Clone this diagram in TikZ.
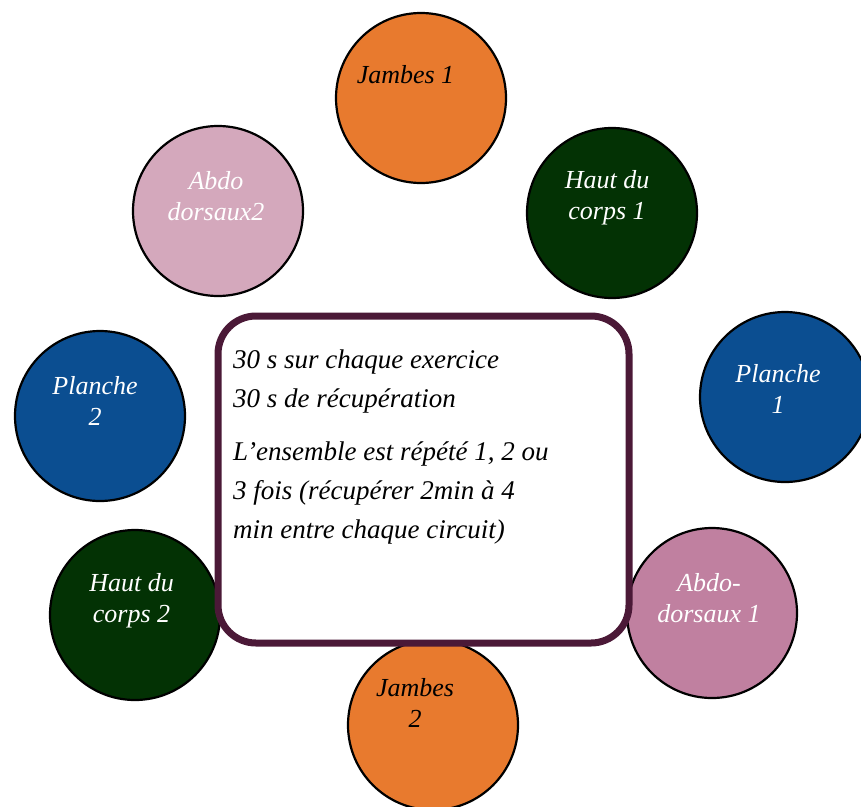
\documentclass[tikz,border=0pt]{standalone}
\usepackage{fontspec}
\setmainfont{Liberation Serif}
\definecolor{orangeJ}{RGB}{232,122,46}
\definecolor{vertH}{RGB}{3,50,4}
\definecolor{bleuP}{RGB}{11,78,145}
\definecolor{roseA}{RGB}{212,168,188}
\definecolor{roseB}{RGB}{192,128,160}
\definecolor{prune}{RGB}{75,25,55}
\begin{document}
\begin{tikzpicture}[x=1pt, y=-1pt,
                        poste/.style={
                            circle,
                            draw=black,
                            line width=2.2pt,
                            minimum size=170pt,
                            inner sep=0pt
                        },
                        etiq/.style={
                            font=\itshape\fontsize{26}{31}\selectfont,
                            align=center,
                            inner sep=0pt
                        },
                        cadre/.style={
                            draw=prune,
                            line width=7pt,
                            fill=white,
                            rounded corners=38pt,
                            inner sep=0pt
                        }
                    ]

                    \useasboundingbox (0,0) rectangle (861,806);

                    % Jambes 1 (top)
                    \node[poste, fill=orangeJ] (jambes1) at (421,98) {};
                    \node[etiq] (jambes1txt)
                        at ([xshift=-15.5pt, yshift=23pt] jambes1.center)
                        {Jambes 1};

                    % Abdo dorsaux 2 (top left)
                    \node[poste, fill=roseA] (abdo2) at (218,211) {};
                    \node[etiq, text=white] (abdo2txt)
                        at ([xshift=-2pt, yshift=15pt] abdo2.center)
                        {Abdo\\ dorsaux2};

                    % Haut du corps 1 (top right)
                    \node[poste, fill=vertH] (haut1) at (612,213) {};
                    \node[etiq, text=white] (haut1txt)
                        at ([xshift=-5pt, yshift=15pt] haut1.center)
                        {Haut du\\ corps 1};

                    % Planche 2 (left)
                    \node[poste, fill=bleuP] (planche2) at (100,416) {};
                    \node[etiq, text=white] (planche2txt)
                        at ([xshift=-5pt, yshift=15.5pt] planche2.center)
                        {Planche\\ 2};

                    % Planche 1 (right)
                    \node[poste, fill=bleuP] (planche1) at (785,397) {};
                    \node[etiq, text=white] (planche1txt)
                        at ([xshift=-7pt, yshift=8pt] planche1.center)
                        {Planche\\ 1};

                    % Haut du corps 2 (bottom left)
                    \node[poste, fill=vertH] (haut2) at (135,615) {};
                    \node[etiq, text=white] (haut2txt)
                        at ([xshift=-3.5pt, yshift=14pt] haut2.center)
                        {Haut du\\ corps 2};

                    % Abdo-dorsaux 1 (bottom right)
                    \node[poste, fill=roseB] (abdo1) at (712,613) {};
                    \node[etiq, text=white] (abdo1txt)
                        at ([xshift=-3pt, yshift=15pt] abdo1.center)
                        {Abdo-\\ dorsaux 1};

                    % Jambes 2 (bottom)
                    \node[poste, fill=orangeJ] (jambes2) at (433,725) {};
                    \node[etiq] (jambes2txt)
                        at ([xshift=-18pt, yshift=22.5pt] jambes2.center)
                        {Jambes\\ 2};

                    % Consigne (rounded box, on top of the circles)
                    \node[cadre,
                        minimum width=411pt,
                        minimum height=327pt,
                        anchor=north west
                    ] (consigne) at (214.5,312.5) {};

                    \node[anchor=north west, align=left, inner sep=0pt,
                        font=\itshape\fontsize{27}{39}\selectfont]
                        (consignetxt)
                        at ([xshift=18.5pt, yshift=-37.5pt] consigne.north west)
                        {30 s sur chaque exercice\\
                         30 s de récupération\\[14pt]
                         L’ensemble est répété 1, 2 ou\\
                         3 fois (récupérer 2min à 4\\
                         min entre chaque circuit)};
                    \end{tikzpicture}
\end{document}
